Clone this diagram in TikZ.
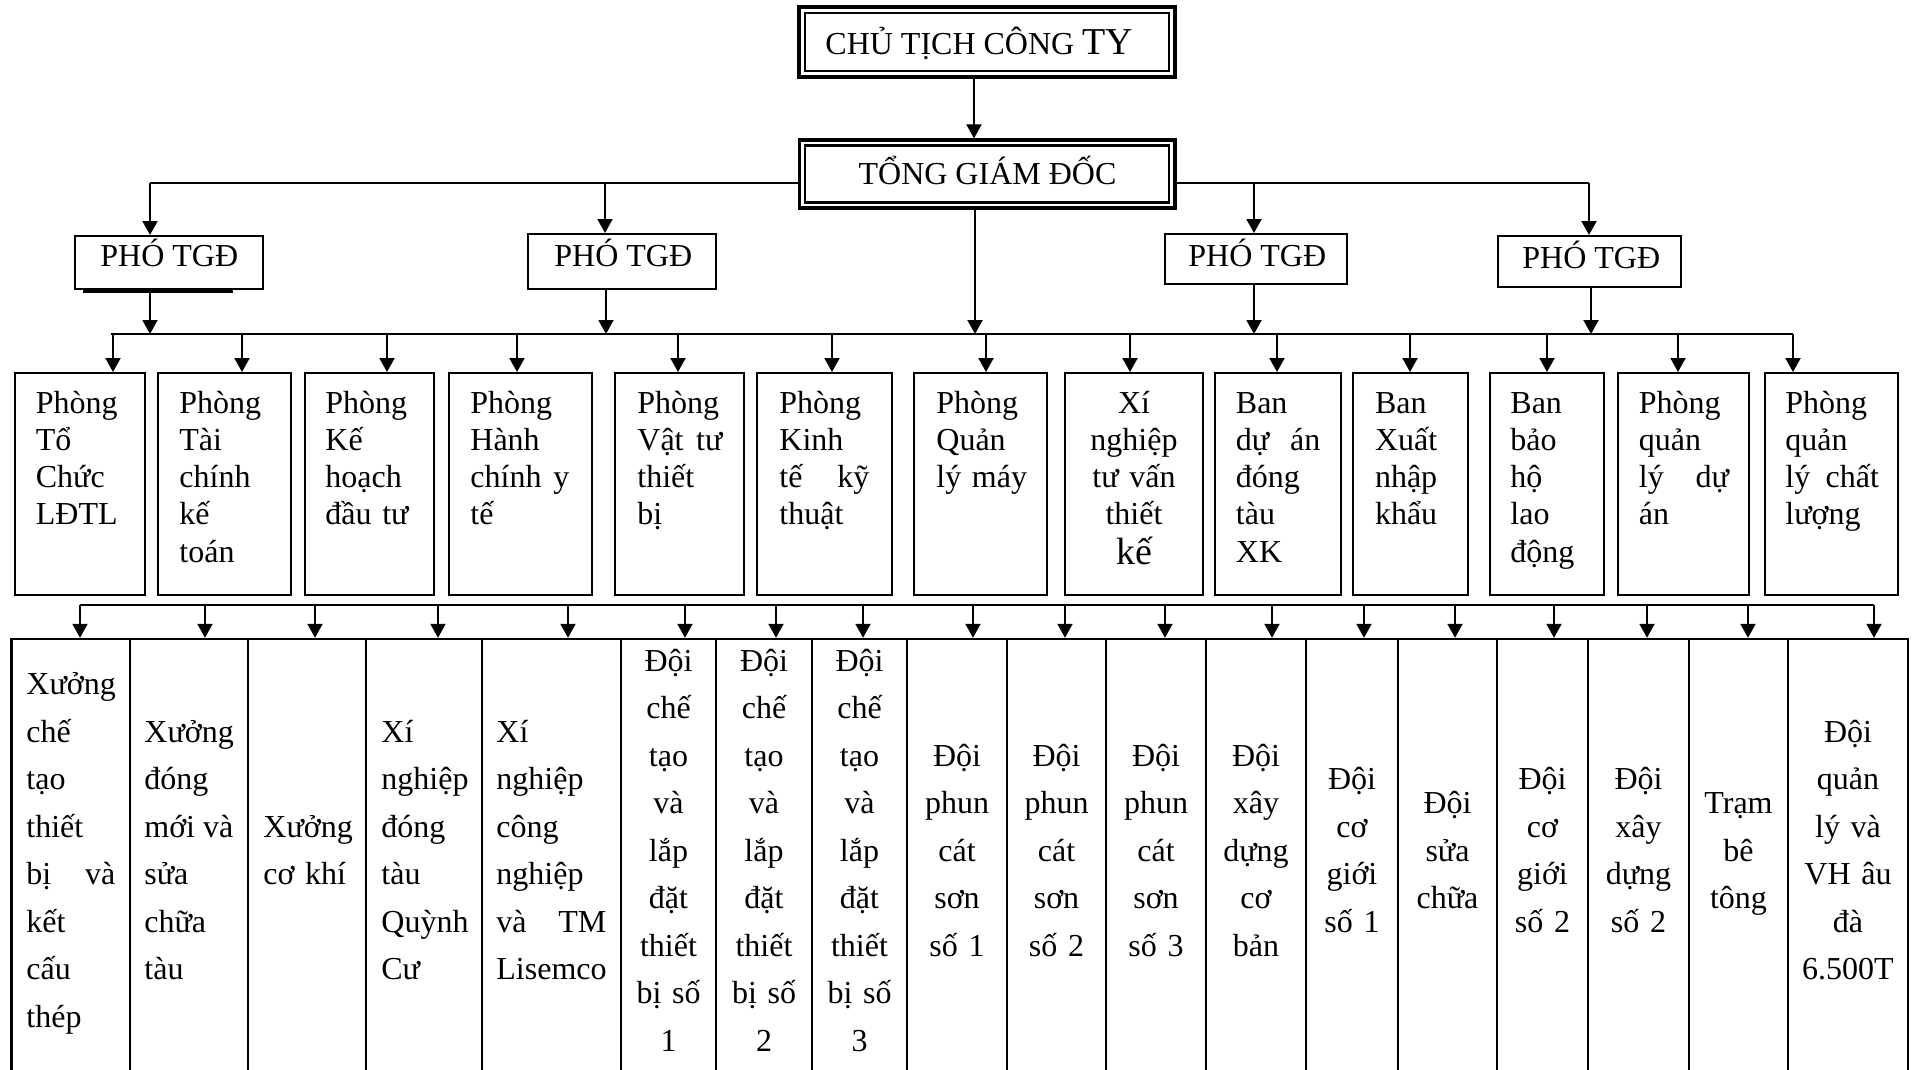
\documentclass[tikz,border=0pt]{standalone}
\usepackage{fontspec}
\setmainfont{Liberation Serif}
\usetikzlibrary{arrows.meta,fit}
\tikzset{
  bx/.style={draw, line width=1pt, inner sep=0pt},
  cellbox/.style={draw, line width=1.2pt, inner sep=0pt},
  conn/.style={line width=1pt},
  arr/.style={line width=1pt, -{Triangle[length=7pt,width=7.5pt]}},
  ttl/.style={inner sep=0pt, anchor=base west, font=\fontsize{16pt}{18pt}\selectfont},
  tx/.style={inner sep=0pt, anchor=base west, align=left, font=\fontsize{16pt}{18.65pt}\selectfont},
  txc/.style={inner sep=0pt, anchor=base, align=center, font=\fontsize{16pt}{18.65pt}\selectfont},
  ty/.style={inner sep=0pt, anchor=base west, align=left, font=\fontsize{16pt}{23.75pt}\selectfont},
  tyc/.style={inner sep=0pt, anchor=base, align=center, text width=45pt, font=\fontsize{16pt}{23.75pt}\selectfont},
}
\begin{document}
\begin{tikzpicture}[x=0.5pt,y=-0.5pt]
\clip (0,0) rectangle (1917,1070);
\fill[white] (0,0) rectangle (1917,1070);

% ---- top boxes
\node[draw, line width=1.6pt, inner sep=0pt, fit={(799,7) (1175,77)}] (chu) {};
\node[draw, line width=1.2pt, inner sep=0pt, fit={(805,13) (1169,71)}] (chuin) {};
\node[ttl] (chut) at (825,55) {CHỦ TỊCH CÔNG {\fontsize{19pt}{19pt}\selectfont TY}};

\node[draw, line width=1.6pt, inner sep=0pt, fit={(799.5,140) (1175,208)}] (tong) {};
\node[draw, line width=1.2pt, inner sep=0pt, fit={(805,145.5) (1169,202.5)}] (tongin) {};
\node[ttl, anchor=base] (tongt) at (987.5,184.5) {TỔNG GIÁM ĐỐC};

% ---- PHO TGD boxes
\node[bx, fit={(75,236) (263,289)}] (p1) {};
\node[bx, fit={(528,234) (716,289)}] (p2) {};
\node[bx, fit={(1165,234) (1347,284)}] (p3) {};
\node[bx, fit={(1498,236) (1681,287)}] (p4) {};
\node[ttl] (p1t) at (100,266.5) {PHÓ TGĐ};
\node[ttl] (p2t) at (554,266) {PHÓ TGĐ};
\node[ttl] (p3t) at (1188,266) {PHÓ TGĐ};
\node[ttl] (p4t) at (1522,268) {PHÓ TGĐ};
\coordinate (u1) at (83,291.5);
\coordinate (u2) at (233,291.5);
\draw[line width=1.3pt] (u1) -- (u2);

% ---- connectors top
\coordinate (a0) at (974,0);
\draw[arr] (chu.south -| a0) -- (tong.north -| a0);
\coordinate (h1) at (150,183);
\coordinate (h2) at (605,183);
\coordinate (h3) at (1254,183);
\coordinate (h4) at (1589,183);
\draw[conn] (tong.west |- h1) -- (h1);
\draw[conn] (tong.east |- h4) -- (h4);
\draw[arr] (h1) -- (h1 |- p1.north);
\draw[arr] (h2) -- (h2 |- p2.north);
\draw[arr] (h3) -- (h3 |- p3.north);
\draw[arr] (h4) -- (h4 |- p4.north);

% ---- second bus
\coordinate (busL) at (111,334);
\coordinate (busR) at (1793,334);
\draw[conn] (busL) -- (busR);
\coordinate (v1) at (150,334);
\coordinate (v2) at (606,334);
\coordinate (v3) at (1254,334);
\coordinate (v4) at (1591,334);
\coordinate (vt) at (975,334);
\draw[arr] (p1.south -| v1) -- (v1);
\draw[arr] (p2.south -| v2) -- (v2);
\draw[arr] (p3.south -| v3) -- (v3);
\draw[arr] (p4.south -| v4) -- (v4);
\draw[arr] (tong.south -| vt) -- (vt);

% ---- row 2 boxes
\foreach \i/\l/\r in {1/15/145, 2/158/291, 3/305/434, 4/449/592, 5/615/744, 6/757/892, 7/914/1047, 8/1065/1203, 9/1215/1341, 10/1353/1468, 11/1490/1604, 12/1618/1749, 13/1765/1898}
  \node[bx, fit={(\l,373) (\r,595)}] (b\i) {};
\foreach \i/\x in {1/113, 2/242, 3/387, 4/517, 5/678, 6/832, 7/986, 8/1130, 9/1277, 10/1410, 11/1547, 12/1678, 13/1793}
  {\coordinate (m\i) at (\x,334);
   \draw[arr] (m\i) -- (m\i |- b\i.north);}

\node[tx, text width=45pt] (tb1) at (35.5,413) {Phòng\\Tổ\\Chức\\LĐTL};
\node[tx, text width=45pt] (tb2) at (179,413) {Phòng\\Tài\\chính\\kế\\toán};
\node[tx, text width=45pt] (tb3) at (325,413) {Phòng\\Kế\\hoạch\\đầu tư};
\node[tx, text width=49.5pt] (tb4) at (470,413) {Phòng\\Hành\\chính\hfill y\\tế};
\node[tx, text width=42.5pt] (tb5) at (637,413) {Phòng\\Vật\hfill tư\\thiết\\bị};
\node[tx, text width=45pt] (tb6) at (779,413) {Phòng\\Kinh\\tế\hfill kỹ\\thuật};
\node[tx, text width=50pt] (tb7) at (936,413) {Phòng\\Quản\\lý máy};
\node[txc, text width=65pt] (tb8) at (1134,413) {Xí\\nghiệp\\tư vấn\\thiết\\[1pt]{\fontsize{19pt}{18.65pt}\selectfont kế}};
\node[tx, text width=42.25pt] (tb9) at (1235.5,413) {Ban\\dự\hfill án\\đóng\\tàu\\XK};
\node[tx, text width=45pt] (tb10) at (1374.6,413) {Ban\\Xuất\\nhập\\khẩu};
\node[tx, text width=45pt] (tb11) at (1510,413) {Ban\\bảo\\hộ\\lao\\động};
\node[tx, text width=45pt] (tb12) at (1638.5,413) {Phòng\\quản\\lý\hfill dự\\án};
\node[tx, text width=46.75pt] (tb13) at (1785,413) {Phòng\\quản\\lý\hfill chất\\lượng};

% ---- row 3
\foreach \i/\l/\r in {1/11.5/130, 2/130/248, 3/248/366, 4/366/482, 5/482/621, 6/621/716, 7/716/812, 8/812/907, 9/907/1007, 10/1007/1106, 11/1106/1206, 12/1206/1306, 13/1306/1398, 14/1398/1497, 15/1497/1588, 16/1588/1689, 17/1689/1788, 18/1788/1908}
  \node[cellbox, fit={(\l,639) (\r,1090)}] (c\i) {};
\coordinate (bus3L) at (80,605);
\coordinate (bus3R) at (1874,605);
\draw[conn] (bus3L) -- (bus3R);
\foreach \i/\x in {1/80, 2/205, 3/315, 4/438, 5/568, 6/685, 7/776, 8/863, 9/973, 10/1065, 11/1165, 12/1272, 13/1364, 14/1455, 15/1554, 16/1647, 17/1748, 18/1874}
  {\coordinate (k\i) at (\x,605);
   \draw[arr] (k\i) -- (k\i |- c\i.north);}

\node[ty, text width=44.5pt] (tc1) at (26,694.75) {Xưởng\\chế\\tạo\\thiết\\bị\hfill và\\kết\\cấu\\thép};
\node[ty, text width=44.5pt] (tc2) at (144,742.25) {Xưởng\\đóng\\mới\hfill và\\sửa\\chữa\\tàu};
\node[ty, text width=50pt] (tc3) at (263,837.25) {Xưởng\\cơ khí};
\node[ty, text width=45pt] (tc4) at (381,742.25) {Xí\\nghiệp\\đóng\\tàu\\Quỳnh\\Cư};
\node[ty, text width=55pt] (tc5) at (496,742.25) {Xí\\nghiệp\\công\\nghiệp\\và\hfill TM\\Lisemco};
\node[tyc] (tc6) at (668.5,671) {Đội\\chế\\tạo\\và\\lắp\\đặt\\thiết\\bị số\\1};
\node[tyc] (tc7) at (764,671) {Đội\\chế\\tạo\\và\\lắp\\đặt\\thiết\\bị số\\2};
\node[tyc] (tc8) at (859.5,671) {Đội\\chế\\tạo\\và\\lắp\\đặt\\thiết\\bị số\\3};
\node[tyc] (tc9) at (957,766) {Đội\\phun\\cát\\sơn\\số 1};
\node[tyc] (tc10) at (1056.5,766) {Đội\\phun\\cát\\sơn\\số 2};
\node[tyc] (tc11) at (1156,766) {Đội\\phun\\cát\\sơn\\số 3};
\node[tyc] (tc12) at (1256,766) {Đội\\xây\\dựng\\cơ\\bản};
\node[tyc] (tc13) at (1352,789.75) {Đội\\cơ\\giới\\số 1};
\node[tyc] (tc14) at (1447.5,813.5) {Đội\\sửa\\chữa};
\node[tyc] (tc15) at (1542.5,789.75) {Đội\\cơ\\giới\\số 2};
\node[tyc] (tc16) at (1638.5,789.75) {Đội\\xây\\dựng\\số 2};
\node[tyc] (tc17) at (1738.5,813.5) {Trạm\\bê\\tông};
\node[tyc, text width=55pt] (tc18) at (1848,742.25) {Đội\\quản\\lý và\\VH âu\\đà\\6.500T};
\end{tikzpicture}
\end{document}
